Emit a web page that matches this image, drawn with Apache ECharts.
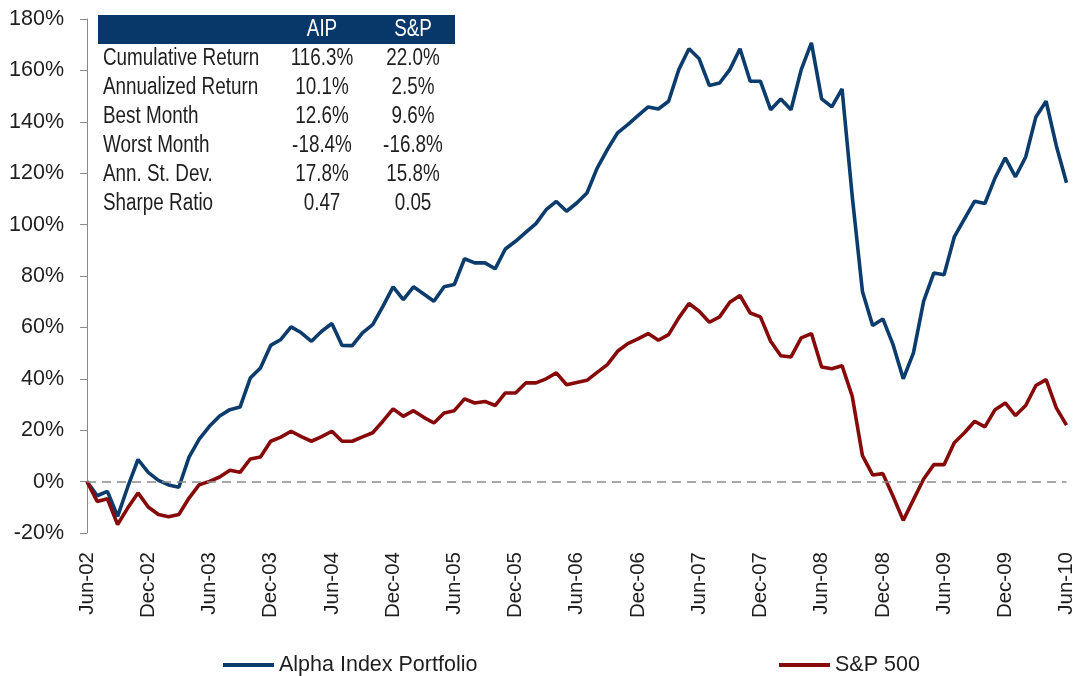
<!DOCTYPE html>
<html>
<head>
<meta charset="utf-8">
<script src="https://cdn.jsdelivr.net/npm/echarts@6/dist/echarts.min.js"></script>
<style>
html,body{margin:0;padding:0;background:#fff;}
#chart{width:1077px;height:676px;}
</style>
</head>
<body>
<div id="chart"></div>
<script>
const months = [
'Jun-02','Jul-02','Aug-02','Sep-02','Oct-02','Nov-02','Dec-02',
'Jan-03','Feb-03','Mar-03','Apr-03','May-03','Jun-03','Jul-03','Aug-03','Sep-03','Oct-03','Nov-03','Dec-03',
'Jan-04','Feb-04','Mar-04','Apr-04','May-04','Jun-04','Jul-04','Aug-04','Sep-04','Oct-04','Nov-04','Dec-04',
'Jan-05','Feb-05','Mar-05','Apr-05','May-05','Jun-05','Jul-05','Aug-05','Sep-05','Oct-05','Nov-05','Dec-05',
'Jan-06','Feb-06','Mar-06','Apr-06','May-06','Jun-06','Jul-06','Aug-06','Sep-06','Oct-06','Nov-06','Dec-06',
'Jan-07','Feb-07','Mar-07','Apr-07','May-07','Jun-07','Jul-07','Aug-07','Sep-07','Oct-07','Nov-07','Dec-07',
'Jan-08','Feb-08','Mar-08','Apr-08','May-08','Jun-08','Jul-08','Aug-08','Sep-08','Oct-08','Nov-08','Dec-08',
'Jan-09','Feb-09','Mar-09','Apr-09','May-09','Jun-09','Jul-09','Aug-09','Sep-09','Oct-09','Nov-09','Dec-09',
'Jan-10','Feb-10','Mar-10','Apr-10','May-10','Jun-10'
];

const aipReturns = [
0,-5.5,-3.8,-13.5,-2,8.6,3.6,0.5,-1.3,-2.2,
9.5,16.5,21.5,25.5,28,29,40.3,44.2,53,55.3,
60.2,57.9,54.6,58.5,61.5,53,52.9,57.9,61.1,68.2,
75.8,70.8,75.8,73,70.2,75.8,76.7,86.7,85.1,85.1,
82.8,90.5,93.5,97,100.4,105.8,109,105.2,108.4,112.3,
122,129.2,135.7,138.9,142.4,145.8,145,148,160.3,168.4,
164.5,154.1,155.1,160.3,168.4,155.8,155.8,144.7,148.9,144.7,
160.3,170.7,148.9,145.8,152.8,111,74,60.7,63.3,53.3,
40,50.1,70.2,81.2,80.5,95.2,102.2,109.1,108.2,118.2,
126,118.6,126.3,141.9,148,130.7,116.3
];

const spReturns = [
0,-7.7,-6.7,-16.7,-10.2,-4.4,-9.9,-12.8,-13.7,-12.8,
-6.4,-1.2,0.1,1.8,4.4,3.6,8.8,9.6,15.7,17.3,
19.6,17.5,15.7,17.5,19.6,15.7,15.7,17.4,19,23.5,
28.3,25.4,27.6,25,22.8,26.7,27.6,32.2,30.6,31.2,
29.6,34.5,34.5,38.4,38.4,40,42.3,37.7,38.6,39.4,
42.5,45.5,50.7,53.7,55.5,57.6,55,57.2,63.7,69.3,
66.3,62,64.1,69.8,72.4,65.6,64.1,54.6,49,48.5,
55.9,57.6,44.6,43.9,45.1,33.2,10.1,2.6,3.1,-5.7,
-15.1,-7,1,6.6,6.6,15.1,19,23.5,21.3,28,
30.6,25.7,29.6,37.4,39.7,28.7,22
];

const seriesNames = ['Alpha Index Portfolio', 'S&P 500'];
const tableHeader = ['AIP', 'S&P'];
const tableRows = ['Cumulative Return','Annualized Return','Best Month','Worst Month','Ann. St. Dev.','Sharpe Ratio'];
const tableAIP = ['116.3%','10.1%','12.6%','-18.4%','17.8%','0.47'];
const tableSP = ['22.0%','2.5%','9.6%','-16.8%','15.8%','0.05'];

const FONT = "'Liberation Sans Narrow','Arial Narrow','Liberation Sans',Arial,sans-serif";
const BLUE = '#0b3c6c';
const RED = '#870a0a';
const NAVY = '#073869';
const TXT = '#1e1e1e';
const NARROW = 0.82;

const graphics = [];
graphics.push({type:'rect', shape:{x:98,y:15,width:357,height:29}, style:{fill:NAVY}, z:10});
const colX = [322, 413];
function tableText(str, x, y, align, color){
  return {type:'text', x:x, y:y, scaleX:NARROW, z:11,
    style:{text:str, fill:color, font:'23px '+FONT, textAlign:align, textVerticalAlign:'middle'}};
}
tableHeader.forEach((h,i)=>{ graphics.push(tableText(h, colX[i], 30, 'center', '#ffffff')); });
tableRows.forEach((r,i)=>{
  const y = 59 + i*28.9;
  graphics.push(tableText(r, 103, y, 'left', TXT));
  graphics.push(tableText(tableAIP[i], colX[0], y, 'center', TXT));
  graphics.push(tableText(tableSP[i], colX[1], y, 'center', TXT));
});

const chart = echarts.init(document.getElementById('chart'), null, {renderer:'canvas'});
chart.setOption({
  animation:false,
  backgroundColor:'#fff',
  grid:{left:87, right:10, top:19, bottom:143, containLabel:false},
  legend:[
    {data:[seriesNames[0]], left:223, top:653, padding:0, icon:'rect', itemWidth:51, itemHeight:4, itemGap:0,
     textStyle:{fontFamily:FONT, fontSize:21.5, color:TXT, lineHeight:24}},
    {data:[seriesNames[1]], left:779, top:653, padding:0, icon:'rect', itemWidth:51, itemHeight:4, itemGap:0,
     textStyle:{fontFamily:FONT, fontSize:21.5, color:TXT, lineHeight:24}}
  ],
  xAxis:{
    type:'category', data:months, boundaryGap:false,
    axisLine:{show:false}, axisTick:{show:false}, splitLine:{show:false},
    axisLabel:{interval:5, rotate:90, margin:19, fontFamily:FONT, fontSize:20.5, color:TXT}
  },
  yAxis:{
    type:'value', min:-20, max:180, interval:20,
    axisLine:{show:true, lineStyle:{color:'#8a8a8a', width:1}},
    axisTick:{show:true, inside:false, length:7, lineStyle:{color:'#8a8a8a'}},
    splitLine:{show:false},
    axisLabel:{formatter:'{value}%', margin:23, fontFamily:FONT, fontSize:21.5, color:TXT}
  },
  series:[
    {name:seriesNames[0], type:'line', data:aipReturns, showSymbol:false, symbol:'none',
     lineStyle:{color:BLUE, width:3.6}, itemStyle:{color:BLUE}, z:3,
     markLine:{silent:true, symbol:'none', label:{show:false},
       lineStyle:{color:'#8c8c8c', type:[9,6], width:1.5},
       data:[{yAxis:0}]}},
    {name:seriesNames[1], type:'line', data:spReturns, showSymbol:false, symbol:'none',
     lineStyle:{color:RED, width:3.6}, itemStyle:{color:RED}, z:4}
  ],
  graphic:graphics
});
</script>
</body>
</html>
